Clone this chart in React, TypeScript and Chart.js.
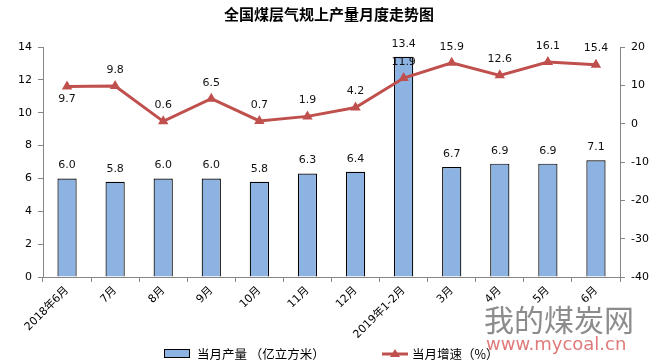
import React, { useEffect, useRef } from "react";
import { Chart, registerables } from "chart.js";

Chart.register(...registerables);

const title = "全国煤层气规上产量月度走势图";
const categories = ["2018年6月", "7月", "8月", "9月", "10月", "11月", "12月", "2019年1-2月", "3月", "4月", "5月", "6月"];
const outputValues = [6.0, 5.8, 6.0, 6.0, 5.8, 6.3, 6.4, 13.4, 6.7, 6.9, 6.9, 7.1];
const growthValues = [9.7, 9.8, 0.6, 6.5, 0.7, 1.9, 4.2, 11.9, 15.9, 12.6, 16.1, 15.4];
const outputLabel = "当月产量 （亿立方米）";
const growthLabel = "当月增速（%）";
const leftTicks = [0, 2, 4, 6, 8, 10, 12, 14];
const rightTicks = [-40, -30, -20, -10, 0, 10, 20];

const BAR_COLOR = "#8DB3E2";
const LINE_COLOR = "#C0504D";
const AXIS_COLOR = "#868686";
const NUM_FONT = "'DejaVu Sans', 'Noto Sans CJK SC', sans-serif";
const CJK_FONT = "'Noto Sans CJK SC', 'DejaVu Sans', sans-serif";

const decorPlugin = {
  id: "decor",
  beforeDraw(chart: any) {
    const ctx = chart.ctx;
    ctx.save();
    // watermark logo (bottom right)
    ctx.fillStyle = "#8c8c8c";
    ctx.font = `30px ${CJK_FONT}`;
    ctx.textAlign = "left";
    ctx.textBaseline = "middle";
    ctx.fillText("我的煤炭网", 484, 320);
    ctx.fillStyle = "#e07a7a";
    ctx.font = `18px ${NUM_FONT}`;
    ctx.fillText("www.mycoal.cn", 486, 345);
    ctx.restore();
  },
  afterDatasetsDraw(chart: any) {
    const ctx = chart.ctx;
    ctx.save();
    ctx.font = `11px ${NUM_FONT}`;
    ctx.fillStyle = "#111";
    ctx.textAlign = "center";
    ctx.textBaseline = "middle";
    chart.data.datasets.forEach((ds: any, di: number) => {
      const meta = chart.getDatasetMeta(di);
      meta.data.forEach((el: any, i: number) => {
        const v = ds.data[i];
        const txt = v.toFixed(1);
        if (ds.type === "line") {
          const dy = i === 0 ? 13 : -16;
          ctx.fillText(txt, el.x, el.y + dy);
        } else {
          ctx.fillText(txt, el.x, el.y - 13);
        }
      });
    });
    ctx.restore();
  },
  afterDraw(chart: any) {
    const ctx = chart.ctx;
    ctx.save();
    // title
    ctx.fillStyle = "#000";
    ctx.font = `bold 15px ${CJK_FONT}`;
    ctx.textAlign = "center";
    ctx.textBaseline = "middle";
    ctx.fillText(title, 329, 14);
    // legend
    const ds = chart.data.datasets;
    ctx.font = `12.5px ${CJK_FONT}`;
    ctx.textAlign = "left";
    ctx.fillStyle = BAR_COLOR;
    ctx.fillRect(164.5, 349.5, 25, 8);
    ctx.strokeStyle = "#000";
    ctx.lineWidth = 1;
    ctx.strokeRect(164.5, 349.5, 25, 8);
    ctx.fillStyle = "#000";
    ctx.fillText(ds[1].label, 197, 354);
    ctx.strokeStyle = LINE_COLOR;
    ctx.lineWidth = 3;
    ctx.beginPath();
    ctx.moveTo(382, 354);
    ctx.lineTo(408, 354);
    ctx.stroke();
    ctx.fillStyle = LINE_COLOR;
    ctx.beginPath();
    ctx.moveTo(395, 349);
    ctx.lineTo(400, 357);
    ctx.lineTo(390, 357);
    ctx.closePath();
    ctx.fill();
    ctx.fillStyle = "#000";
    ctx.fillText(ds[0].label, 412, 354);
    ctx.restore();
  },
};

export default function App() {
  const ref = useRef<HTMLCanvasElement>(null);
  useEffect(() => {
    if (!ref.current) return;
    const chart = new Chart(ref.current, {
      type: "bar",
      data: {
        labels: categories,
        datasets: [
          {
            type: "line",
            label: growthLabel,
            data: growthValues,
            yAxisID: "y1",
            borderColor: LINE_COLOR,
            backgroundColor: LINE_COLOR,
            borderWidth: 3,
            pointStyle: "triangle",
            pointRadius: 6,
            pointBorderWidth: 0,
            tension: 0,
            order: 0,
          } as any,
          {
            type: "bar",
            label: outputLabel,
            data: outputValues,
            yAxisID: "y",
            backgroundColor: BAR_COLOR,
            borderColor: "#000",
            borderWidth: 1.2,
            categoryPercentage: 1,
            barPercentage: 0.4,
            order: 1,
          } as any,
        ],
      },
      plugins: [decorPlugin],
      options: {
        animation: false,
        responsive: true,
        maintainAspectRatio: false,
        layout: { padding: { top: 47, left: 0, right: 0, bottom: 0 } },
        plugins: {
          legend: { display: false },
          title: { display: false },
          tooltip: { enabled: false },
        },
        scales: {
          x: {
            offset: true,
            grid: { offset: true, drawOnChartArea: false, drawTicks: true, tickLength: 5, color: AXIS_COLOR },
            border: { color: AXIS_COLOR, width: 1 },
            ticks: {
              minRotation: 45,
              maxRotation: 45,
              autoSkip: false,
              color: "#000",
              padding: 2,
              font: { family: NUM_FONT, size: 11 },
            },
            afterFit: (s: any) => {
              s.height = 87;
            },
          },
          y: {
            position: "left",
            min: 0,
            max: 14,
            afterBuildTicks: (s: any) => {
              s.ticks = leftTicks.map((v) => ({ value: v }));
            },
            grid: { drawOnChartArea: false, drawTicks: true, tickLength: 5, color: AXIS_COLOR },
            border: { color: AXIS_COLOR, width: 1 },
            ticks: { color: "#000", padding: 6, font: { family: NUM_FONT, size: 11 } },
            afterFit: (s: any) => {
              s.width = 43;
            },
          },
          y1: {
            position: "right",
            min: -40,
            max: 20,
            afterBuildTicks: (s: any) => {
              s.ticks = rightTicks.map((v) => ({ value: v }));
            },
            grid: { drawOnChartArea: false, drawTicks: true, tickLength: 5, color: AXIS_COLOR },
            border: { color: AXIS_COLOR, width: 1 },
            ticks: { color: "#000", padding: 6, font: { family: NUM_FONT, size: 11 } },
            afterFit: (s: any) => {
              s.width = 38;
            },
          },
        },
      },
    });
    return () => chart.destroy();
  }, []);
  return (
    <div style={{ position: "absolute", left: 0, top: 0, width: 658, height: 364, background: "#fff" }}>
      <canvas ref={ref} />
    </div>
  );
}
